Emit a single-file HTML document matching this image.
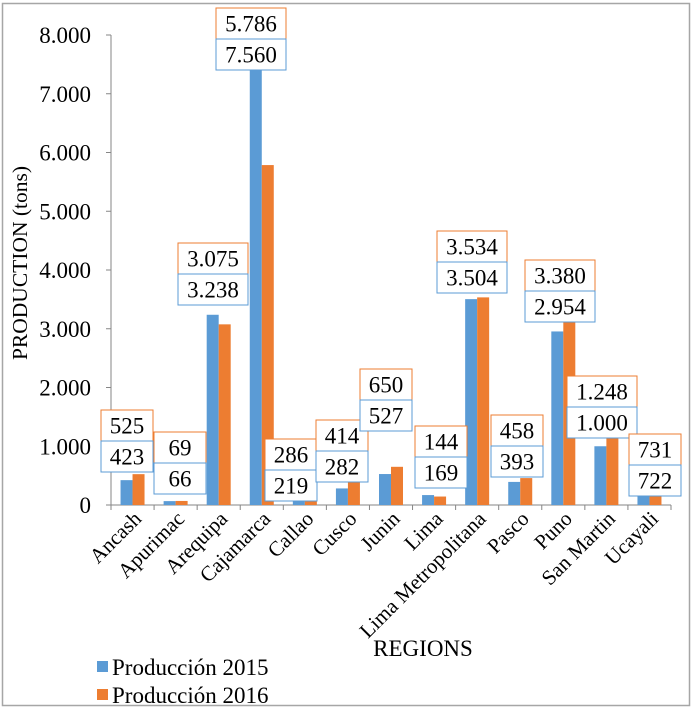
<!DOCTYPE html>
<html><head><meta charset="utf-8"><style>
html,body{margin:0;padding:0;background:#fff;}
svg, svg text{font-family:"Liberation Serif","DejaVu Serif",serif;}
</style></head><body>
<svg id="chart" width="693" height="709" viewBox="0 0 693 709" xmlns="http://www.w3.org/2000/svg" font-family="Liberation Serif, serif">
<rect x="2.5" y="3.5" width="687" height="702" fill="#fff" stroke="#a6a6a6" stroke-width="1.5"/>
<g id="plot"></g>
</svg>
<script>
const categories=["Ancash","Apurimac","Arequipa","Cajamarca","Callao","Cusco","Junin","Lima","Lima Metropolitana","Pasco","Puno","San Martin","Ucayali"];
const prod2015=[423,66,3238,7560,219,282,527,169,3504,393,2954,1000,722];
const prod2016=[525,69,3075,5786,286,414,650,144,3534,458,3380,1248,731];
const yTicks=[0,1000,2000,3000,4000,5000,6000,7000,8000];
const yTickLabels=["0","1.000","2.000","3.000","4.000","5.000","6.000","7.000","8.000"];
const labels2015=["423","66","3.238","7.560","219","282","527","169","3.504","393","2.954","1.000","722"];
const labels2016=["525","69","3.075","5.786","286","414","650","144","3.534","458","3.380","1.248","731"];
// label box layout (manually placed in source chart)
const boxCx=[127,180,213,251,291,342,386,441,472,517,560,602,655];
const boxTop=[441,463,274,39,470,451,400,457,262,446,291,407,465];

const NS="http://www.w3.org/2000/svg";
const FF='Liberation Serif, serif';
const g=document.getElementById('plot');
const X0=111,X1=671,Y0=505,Y1=35,YMAX=8000;
const bw=(X1-X0)/categories.length;
const y=v=>Y0-(v/YMAX)*(Y0-Y1);
const xc=i=>X0+bw*(i+0.5);
function el(t,a,txt){const e=document.createElementNS(NS,t);for(const k in a)e.setAttribute(k,a[k]);if(txt!=null){e.textContent=txt;e.setAttribute('font-family',FF);}g.appendChild(e);return e;}

let ax=el('line',{x1:X0,y1:Y1,x2:X0,y2:Y0,stroke:'#868686','stroke-width':1});


let bx=el('line',{x1:X0,y1:Y0,x2:X1,y2:Y0,stroke:'#868686','stroke-width':1});


yTicks.forEach((v,i)=>{
  let t=el('line',{x1:X0-5,y1:y(v),x2:X0,y2:y(v),stroke:'#868686'});
  
  
  let l=el('text',{x:X0-20,y:y(v)+8,'text-anchor':'end','font-size':23,fill:'#000'},yTickLabels[i]);
  
  
});
for(let i=0;i<=categories.length;i++){
  let t=el('line',{x1:X0+bw*i,y1:Y0,x2:X0+bw*i,y2:Y0+5,stroke:'#868686'});
  
  
}
const barW=12;
categories.forEach((c,i)=>{
  const cx=xc(i);
  let b1=el('rect',{x:cx-barW,y:y(prod2015[i]),width:barW,height:Y0-y(prod2015[i]),fill:'#5b9bd5'});
  
  
  let b2=el('rect',{x:cx,y:y(prod2016[i]),width:barW,height:Y0-y(prod2016[i]),fill:'#ed7d31'});
  
  
  let lab=el('text',{transform:`translate(${cx+10},${Y0+15}) rotate(-45)`,'text-anchor':'end','font-size':21,fill:'#000'},c);
  
  
});
categories.forEach((c,i)=>{
  const w=labels2015[i].length>3||labels2016[i].length>3?70:52;
  const h=31;
  const top=boxTop[i];
  let r2=el('rect',{x:boxCx[i]-w/2,y:top-h,width:w,height:h,fill:'#fff',stroke:'#ed7d31','stroke-width':1});
  
  
  let t2=el('text',{x:boxCx[i],y:top-h/2+8,'text-anchor':'middle','font-size':23,fill:'#000'},labels2016[i]);
  
  
  let r1=el('rect',{x:boxCx[i]-w/2,y:top,width:w,height:h,fill:'#fff',stroke:'#5b9bd5','stroke-width':1});
  
  
  let t1=el('text',{x:boxCx[i],y:top+h/2+8,'text-anchor':'middle','font-size':23,fill:'#000'},labels2015[i]);
  
  
});
let yt=el('text',{transform:'translate(27,263) rotate(-90)','text-anchor':'middle','font-size':21.5,fill:'#000'},'PRODUCTION (tons)');


let xt=el('text',{x:423,y:656,'text-anchor':'middle','font-size':23,fill:'#000'},'REGIONS');


[['Producción 2015','#5b9bd5',661],['Producción 2016','#ed7d31',689]].forEach(([n,col,ty])=>{
  let s=el('rect',{x:97,y:ty,width:11,height:11,fill:col});
  
  
  let t=el('text',{x:112,y:ty+14,'font-size':23,fill:'#000'},n);
  
  
});
</script>
</body></html>
